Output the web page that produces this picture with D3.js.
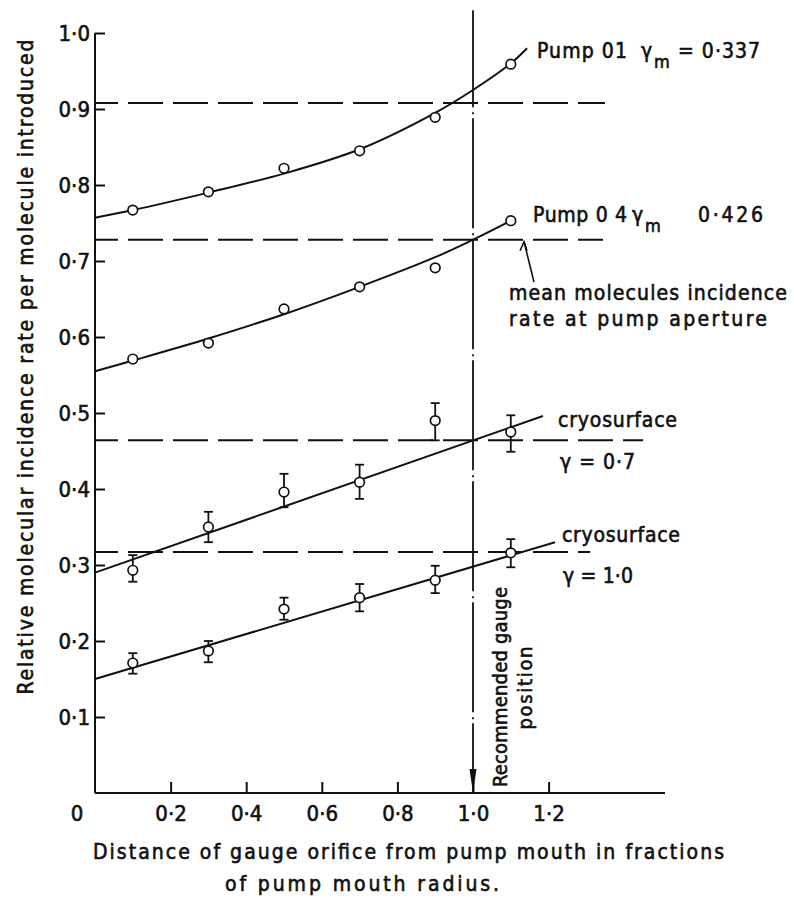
<!DOCTYPE html>
<html>
<head>
<meta charset="utf-8">
<script src="https://cdn.jsdelivr.net/npm/d3@7"></script>
<style>
  body { margin: 0; background: #fff; }
  svg text { font-family: "DejaVu Sans Condensed", "Liberation Sans Narrow", sans-serif; fill: #111; stroke: #111; stroke-width: 0.6px; }
</style>
</head>
<body>
<div class="chart"></div>
<script>
// measured positions along the gauge axis
const xPts = [0.1, 0.3, 0.5, 0.7, 0.9, 1.1];

// pump data (points) + the drawn smooth fits
const pump01 = [0.767, 0.791, 0.822, 0.845, 0.889, 0.959];
const pump04 = [0.571, 0.592, 0.637, 0.666, 0.691, 0.753];
const fit01X = [0, 0.1, 0.3, 0.5, 0.7, 0.9, 1.0, 1.1, 1.143];
const fit01Y = [0.757, 0.767, 0.790, 0.815, 0.847, 0.895, 0.925, 0.960, 0.980];
const fit04X = [0, 0.1, 0.3, 0.5, 0.7, 0.9, 1.0, 1.1];
const fit04Y = [0.555, 0.569, 0.598, 0.630, 0.666, 0.705, 0.728, 0.753];

// cryosurface points with error bars
const cryo07 = [0.293, 0.350, 0.396, 0.409, 0.490, 0.475];
const cryo07Lo = [0.278, 0.330, 0.376, 0.387, 0.464, 0.449];
const cryo07Hi = [0.313, 0.370, 0.420, 0.432, 0.513, 0.497];
const cryo10 = [0.171, 0.187, 0.242, 0.257, 0.280, 0.316];
const cryo10Lo = [0.157, 0.172, 0.228, 0.239, 0.263, 0.297];
const cryo10Hi = [0.184, 0.200, 0.257, 0.275, 0.299, 0.334];
// straight fits: [x0, y0, x1, y1]
const fit07 = [0, 0.290, 1.185, 0.496];
const fit10 = [0, 0.150, 1.217, 0.330];

// mean incidence levels (dashed) and where each dashed line stops
const meanLevels = [0.908, 0.728, 0.464, 0.317];
const meanEnds = [1.349, 1.344, 1.450, 1.310];

const xTicks = [0.2, 0.4, 0.6, 0.8, 1.0, 1.2];
const yTicks = [0.1, 0.2, 0.3, 0.4, 0.5, 0.6, 0.7, 0.8, 0.9, 1.0];
const xMax = 1.508;
const gaugePos = 1.0;

const W = 794, H = 899;
const svg = d3.select(".chart").append("svg")
    .attr("width", W)
    .attr("height", H);

const x = d3.scaleLinear().domain([0, 1]).range([95, 473]);
const y = d3.scaleLinear().domain([0, 1]).range([793, 33]);
const ink = "#111";
const fmt = v => d3.format(".1f")(v).replace(".", "·");

// axes
svg.append("line")
    .attr("x1", x(0)).attr("x2", x(0)).attr("y1", y(0)).attr("y2", y(1))
    .attr("stroke", ink).attr("stroke-width", 2);
svg.append("line")
    .attr("x1", x(0)).attr("x2", x(xMax)).attr("y1", y(0)).attr("y2", y(0))
    .attr("stroke", ink).attr("stroke-width", 2);

const yAxis = d3.axisLeft(y).tickValues(yTicks).tickSize(-10).tickPadding(5).tickFormat(fmt);
const gy = svg.append("g").attr("transform", `translate(${x(0)},0)`).call(yAxis);
gy.select(".domain").remove();
gy.selectAll(".tick line").attr("stroke", ink).attr("stroke-width", 2);
gy.selectAll(".tick text").attr("font-size", 22).attr("fill", ink).attr("dy", "0.36em")
    .attr("font-family", null);

const xAxis = d3.axisBottom(x).tickValues(xTicks).tickSize(-11).tickPadding(0).tickFormat(fmt);
const gx = svg.append("g").attr("transform", `translate(0,${y(0)})`).call(xAxis);
gx.select(".domain").remove();
gx.selectAll(".tick line").attr("stroke", ink).attr("stroke-width", 2);
gx.selectAll(".tick text").attr("font-size", 22).attr("fill", ink).attr("y", 28).attr("dy", 0)
    .attr("font-family", null);
gy.attr("font-family", null);
gx.attr("font-family", null);

svg.append("text").attr("x", 77).attr("y", 821).attr("text-anchor", "middle")
    .attr("font-size", 22).text("0");

// dashed mean-incidence levels
svg.selectAll(".mean").data(meanLevels).enter().append("line")
    .attr("class", "mean")
    .attr("x1", x(0)).attr("x2", (d, i) => x(meanEnds[i]))
    .attr("y1", d => y(d)).attr("y2", d => y(d))
    .attr("stroke", ink).attr("stroke-width", 2)
    .attr("stroke-dasharray", "35,10").attr("stroke-dashoffset", 12);

// recommended gauge position (dash-dot with arrow)
svg.append("line")
    .attr("x1", x(gaugePos)).attr("x2", x(gaugePos))
    .attr("y1", y(1.03)).attr("y2", y(0) - 1)
    .attr("stroke", ink).attr("stroke-width", 1.8)
    .attr("stroke-dasharray", "110,5,2,4").attr("stroke-dashoffset", 13);
svg.append("path")
    .attr("d", `M${x(gaugePos) - 3.5},${y(0) - 24} L${x(gaugePos) + 3.5},${y(0) - 24} L${x(gaugePos)},${y(0)} Z`)
    .attr("fill", ink);

// fitted curves
const line = d3.line().x(d => x(d[0])).y(d => y(d[1])).curve(d3.curveCatmullRom.alpha(0.5));
[[fit01X, fit01Y], [fit04X, fit04Y]].forEach(([fx, fy]) => {
  svg.append("path")
      .datum(fx.map((v, i) => [v, fy[i]]))
      .attr("d", line)
      .attr("fill", "none").attr("stroke", ink).attr("stroke-width", 2);
});
[fit07, fit10].forEach(f => {
  svg.append("line")
      .attr("x1", x(f[0])).attr("y1", y(f[1]))
      .attr("x2", x(f[2])).attr("y2", y(f[3]))
      .attr("stroke", ink).attr("stroke-width", 2);
});

// error bars
[[cryo07Lo, cryo07Hi], [cryo10Lo, cryo10Hi]].forEach(([lo, hi]) => {
  const g = svg.append("g").attr("stroke", ink).attr("stroke-width", 1.8);
  xPts.forEach((xv, i) => {
    g.append("line").attr("x1", x(xv)).attr("x2", x(xv)).attr("y1", y(lo[i])).attr("y2", y(hi[i]));
    g.append("line").attr("x1", x(xv) - 4.5).attr("x2", x(xv) + 4.5).attr("y1", y(lo[i])).attr("y2", y(lo[i]));
    g.append("line").attr("x1", x(xv) - 4.5).attr("x2", x(xv) + 4.5).attr("y1", y(hi[i])).attr("y2", y(hi[i]));
  });
});

// points
[pump01, pump04, cryo07, cryo10].forEach(series => {
  svg.append("g").selectAll("circle").data(series).enter().append("circle")
      .attr("cx", (d, i) => x(xPts[i]))
      .attr("cy", d => y(d))
      .attr("r", 4.8)
      .attr("fill", "#fff").attr("stroke", ink).attr("stroke-width", 1.7);
});

// labels
function label(t, px, py, len, size) {
  const el = svg.append("text").attr("x", px).attr("y", py).attr("font-size", size || 21).text(t);
  if (len) el.attr("textLength", len).attr("lengthAdjust", "spacing");
  return el;
}
label("Pump 01", 537, 58, 90);
label("γ", 641, 58);
label("m", 654, 68, null, 18);
label("= 0·337", 678, 58, 82);
label("Pump 0 4", 533, 222, 94);
label("γ", 632, 222);
label("m", 645, 232, null, 18);
label("0·426", 698, 222, 65);
label("mean  molecules  incidence", 509, 300, 278);
label("rate  at  pump  aperture", 509, 326, 258);
label("cryosurface", 558, 427, 119);
label("γ = 0·7", 560, 469, 75);
label("cryosurface", 562, 542, 118);
label("γ = 1·0", 563, 583, 70);

// annotation arrow to the dashed mean line
svg.append("line")
    .attr("x1", 534).attr("y1", 282)
    .attr("x2", x(1.135)).attr("y2", y(meanLevels[1]) + 2)
    .attr("stroke", ink).attr("stroke-width", 1.6);
svg.append("path")
    .attr("d", `M${x(1.135) - 4},${y(meanLevels[1]) + 11} L${x(1.135)},${y(meanLevels[1]) + 2} L${x(1.135) + 3},${y(meanLevels[1]) + 11}`)
    .attr("fill", "none").attr("stroke", ink).attr("stroke-width", 1.6);

// rotated labels
svg.append("text")
    .attr("transform", "translate(507,687) rotate(-90)")
    .attr("text-anchor", "middle").attr("font-size", 20)
    .attr("textLength", 200).attr("lengthAdjust", "spacing")
    .text("Recommended  gauge");
svg.append("text")
    .attr("transform", "translate(532,688) rotate(-90)")
    .attr("text-anchor", "middle").attr("font-size", 20)
    .attr("textLength", 83).attr("lengthAdjust", "spacing")
    .text("position");
svg.append("text")
    .attr("transform", "translate(33,367) rotate(-90)")
    .attr("text-anchor", "middle").attr("font-size", 21)
    .attr("textLength", 655).attr("lengthAdjust", "spacing")
    .text("Relative  molecular  incidence  rate  per  molecule  introduced");

label("Distance  of  gauge  orifice  from  pump  mouth  in  fractions", 93, 859, 631);
label("of  pump  mouth  radius.", 225, 891, 274);
</script>
</body>
</html>
